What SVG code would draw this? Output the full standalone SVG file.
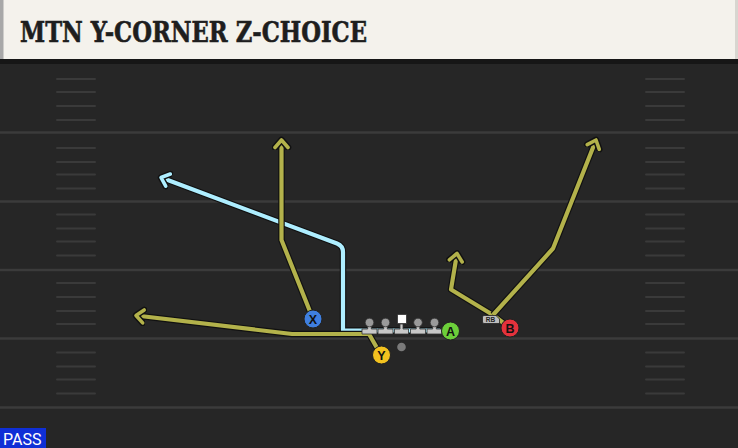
<svg xmlns="http://www.w3.org/2000/svg" width="738" height="448" viewBox="0 0 738 448">
<defs>
<style>
.yard{stroke:#3b3b3b;stroke-width:2.5}
.hash{stroke:#3a3a3a;stroke-width:2;stroke-linecap:round}
.rt-o{fill:none;stroke:#111;stroke-width:6.5;stroke-linejoin:round;stroke-linecap:butt}
.rt-y{fill:none;stroke:#b3b24b;stroke-width:4.2;stroke-linejoin:round}
.rt-b{fill:none;stroke:#aeeeff;stroke-width:4.2;stroke-linejoin:round}
.lbl{font-family:"Liberation Sans",Arial,sans-serif;font-weight:bold;font-size:12.5px;fill:#111;text-anchor:middle}
.ol{stroke:#222;stroke-width:1}
</style>
<marker id="ay" viewBox="-10 -10 20 20" markerWidth="20" markerHeight="20" markerUnits="userSpaceOnUse" orient="auto" refX="0" refY="0">
<polyline points="-7.5,-6.5 0,0 -7.5,6.5" fill="none" stroke="#111" stroke-width="6.5" stroke-linejoin="round" stroke-linecap="round"/>
<polyline points="-7.5,-6.5 0,0 -7.5,6.5" fill="none" stroke="#b3b24b" stroke-width="3.6" stroke-linejoin="round" stroke-linecap="round"/>
</marker>
<marker id="ab" viewBox="-10 -10 20 20" markerWidth="20" markerHeight="20" markerUnits="userSpaceOnUse" orient="auto" refX="0" refY="0">
<polyline points="-7.5,-6.5 0,0 -7.5,6.5" fill="none" stroke="#111" stroke-width="6.5" stroke-linejoin="round" stroke-linecap="round"/>
<polyline points="-7.5,-6.5 0,0 -7.5,6.5" fill="none" stroke="#aeeeff" stroke-width="3.6" stroke-linejoin="round" stroke-linecap="round"/>
</marker>
<g id="lm">
<path d="M-1.8,-1 L1.8,-1 L1.8,6.5 L7.5,6.5 L7.5,11.5 L-7.5,11.5 L-7.5,6.5 L-1.8,6.5 Z" fill="#c8c8c8" stroke="#333" stroke-width="0.8"/>
<circle cx="0" cy="0" r="4.3" fill="#9a9a9a" stroke="#333" stroke-width="0.8"/>
</g>
</defs>
<rect x="0" y="0" width="738" height="448" fill="#262626"/>
<g id="field">
<line class="yard" x1="0" y1="132.5" x2="738" y2="132.5"/>
<line class="yard" x1="0" y1="201.5" x2="738" y2="201.5"/>
<line class="yard" x1="0" y1="270" x2="738" y2="270"/>
<line class="yard" x1="0" y1="338.5" x2="738" y2="338.5"/>
<line class="yard" x1="0" y1="407.5" x2="738" y2="407.5"/>
<g id="hash-l">
<line class="hash" x1="57" y1="79" x2="95" y2="79"/><line class="hash" x1="57" y1="92" x2="95" y2="92"/><line class="hash" x1="57" y1="106" x2="95" y2="106"/><line class="hash" x1="57" y1="120" x2="95" y2="120"/>
<line class="hash" x1="57" y1="148" x2="95" y2="148"/><line class="hash" x1="57" y1="162" x2="95" y2="162"/><line class="hash" x1="57" y1="174.5" x2="95" y2="174.5"/><line class="hash" x1="57" y1="188.5" x2="95" y2="188.5"/>
<line class="hash" x1="57" y1="214.5" x2="95" y2="214.5"/><line class="hash" x1="57" y1="228.5" x2="95" y2="228.5"/><line class="hash" x1="57" y1="241.5" x2="95" y2="241.5"/><line class="hash" x1="57" y1="255.5" x2="95" y2="255.5"/>
<line class="hash" x1="57" y1="283" x2="95" y2="283"/><line class="hash" x1="57" y1="297" x2="95" y2="297"/><line class="hash" x1="57" y1="311" x2="95" y2="311"/><line class="hash" x1="57" y1="324" x2="95" y2="324"/>
<line class="hash" x1="57" y1="352.5" x2="95" y2="352.5"/><line class="hash" x1="57" y1="366.5" x2="95" y2="366.5"/><line class="hash" x1="57" y1="379.5" x2="95" y2="379.5"/><line class="hash" x1="57" y1="393.5" x2="95" y2="393.5"/>
</g>
<use href="#hash-l" x="589"/>
</g>
<g id="title">
<rect x="0" y="0" width="738" height="60" fill="#f4f2ec"/>
<rect x="0" y="0" width="3.5" height="60" fill="#a8a8a8"/>
<rect x="735" y="0" width="3" height="60" fill="#d8d6d0"/>
<rect x="0" y="59" width="738" height="5" fill="#161616"/>
<text x="20" y="42" font-family="'DejaVu Serif','Liberation Serif',serif" font-weight="bold" font-size="27" fill="#1e1e1e" stroke="#1e1e1e" stroke-width="0.6" textLength="347" lengthAdjust="spacingAndGlyphs">MTN Y-CORNER Z-CHOICE</text>
</g>
<g id="connectors">
<path class="rt-o" d="M440,330.5 L343,330.5 L343,252 Q343,246 337,243.5 L161,177.5"/>
<path class="rt-b" d="M440,330.5 L343,330.5 L343,252 Q343,246 337,243.5 L161,177.5" marker-end="url(#ab)"/>
<path class="rt-o" d="M313,319 L281.5,240 L281.5,140"/>
<path class="rt-y" d="M313,319 L281.5,240 L281.5,140" marker-end="url(#ay)"/>
<path class="rt-o" d="M381,355 L369,334 L292,334 L136,315.5"/>
<path class="rt-y" d="M381,355 L369,334 L292,334 L136,315.5" marker-end="url(#ay)"/>
<path class="rt-o" d="M510,328 L493,315 L451,289.5 L457,253.5"/>
<path class="rt-y" d="M510,328 L493,315 L451,289.5 L457,253.5" marker-end="url(#ay)"/>
<path class="rt-o" d="M493,315 L553,248.5 L596,140"/>
<path class="rt-y" d="M493,315 L553,248.5 L596,140" marker-end="url(#ay)"/>
</g>
<g id="ol">
<use href="#lm" x="369.5" y="322.5"/>
<use href="#lm" x="385.5" y="322.5"/>
<use href="#lm" x="418" y="322.5"/>
<use href="#lm" x="434.5" y="322.5"/>
<g id="center">
<path d="M400,324 L403,324 L403,329 L408.5,329 L408.5,334 L394.5,334 L394.5,329 L400,329 Z" fill="#c8c8c8" stroke="#333" stroke-width="0.8"/>
<rect x="397.5" y="314.5" width="9" height="9" fill="#ffffff" stroke="#333" stroke-width="0.8"/>
</g>
</g>
<g id="qb"><circle cx="401.5" cy="347" r="4.3" fill="#7a7a7a"/></g>
<g id="node-x"><circle class="ol" cx="313" cy="319" r="9" fill="#3f7fe0"/><text class="lbl" x="313" y="323.5">X</text></g>
<g id="node-y"><circle class="ol" cx="381.5" cy="355" r="9" fill="#f3c21f"/><text class="lbl" x="381.5" y="359.5">Y</text></g>
<g id="node-a"><circle class="ol" cx="450.5" cy="331" r="9" fill="#6ccf3a"/><text class="lbl" x="450.5" y="335.5">A</text></g>
<g id="node-b"><circle class="ol" cx="510" cy="328" r="9" fill="#e4323c"/><text class="lbl" x="510" y="332.5">B</text></g>
<g id="node-rb">
<path d="M484,315.5 L496,315.5 L499.5,319 L499.5,323.5 L484,323.5 Q482.5,323.5 482.5,322 L482.5,317 Q482.5,315.5 484,315.5 Z" fill="#bdbdbd" stroke="#222" stroke-width="0.8"/>
<text x="490.5" y="322" font-family="'Liberation Sans',Arial,sans-serif" font-weight="bold" font-size="6.5" fill="#222" text-anchor="middle">RB</text>
</g>
<g id="pass">
<rect x="0" y="428" width="46" height="20" fill="#0f2fd6"/>
<text x="3" y="444.5" font-family="Roboto,'Liberation Sans',sans-serif" font-size="16" fill="#ffffff">PASS</text>
</g>
</svg>
